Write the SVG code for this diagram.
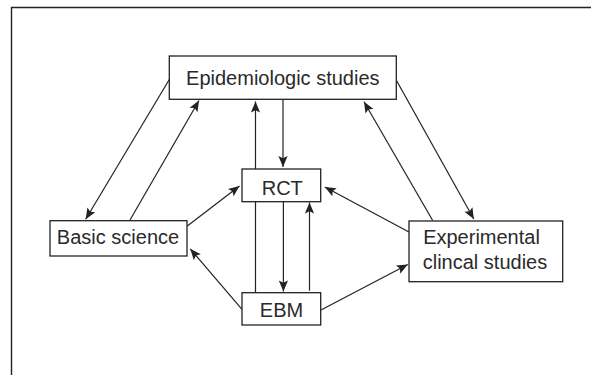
<svg xmlns="http://www.w3.org/2000/svg" width="591" height="375" viewBox="0 0 591 375">
  <style>
    .box { fill: #fff; stroke: #222; stroke-width: 1.3; }
    .lbl { font-family: "Liberation Sans", Arial, sans-serif; font-size: 20px; fill: #2a2a2a; text-anchor: middle; }
    .edge { stroke: #222; stroke-width: 1.2; fill: none; }
    .arr { marker-end: url(#ah); }
  </style>
  <defs>
    <marker id="ah" markerUnits="userSpaceOnUse" markerWidth="14" markerHeight="12" viewBox="0 -6 12 12" refX="11" refY="0" orient="auto">
      <path d="M0,-4.6 L11,0 L0,4.6 L2.2,0 z" fill="#222"/>
    </marker>
  </defs>
  <rect width="591" height="375" fill="#fff"/>
  <g id="frame">
    <path d="M11.5,375 L11.5,7.5 L591,7.5" fill="none" stroke="#222" stroke-width="1.4"/>
  </g>
  <g id="connectors">
    <line class="edge arr" x1="169.3" y1="79.5" x2="85.7" y2="219.3"/>
    <line class="edge arr" x1="130" y1="220" x2="199" y2="100.5"/>
    <line class="edge arr" x1="255.5" y1="292.7" x2="255.5" y2="101.5"/>
    <line class="edge arr" x1="283" y1="99.3" x2="283" y2="167"/>
    <line class="edge arr" x1="283.4" y1="201.7" x2="283.4" y2="291.5"/>
    <line class="edge arr" x1="309.5" y1="290.7" x2="309.5" y2="202.5"/>
    <line class="edge arr" x1="187.3" y1="226" x2="239.5" y2="186"/>
    <line class="edge arr" x1="242" y1="309.3" x2="190.2" y2="248.8"/>
    <line class="edge arr" x1="409" y1="232" x2="324.8" y2="187"/>
    <line class="edge arr" x1="321" y1="310" x2="407.8" y2="264.5"/>
    <line class="edge arr" x1="432.7" y1="220.5" x2="364" y2="101.7"/>
    <line class="edge arr" x1="396.5" y1="80.5" x2="473.8" y2="219"/>
  </g>
  <g id="epi">
    <rect class="box" x="169.3" y="56" width="227" height="43.3"/>
    <text class="lbl" x="282.8" y="84.7">Epidemiologic studies</text>
  </g>
  <g id="rct">
    <rect class="box" x="242" y="169" width="78.7" height="32.7"/>
    <text class="lbl" x="282.3" y="194.8">RCT</text>
  </g>
  <g id="ebm">
    <rect class="box" x="242" y="292.7" width="78.7" height="32.3"/>
    <text class="lbl" x="281.5" y="316.5">EBM</text>
  </g>
  <g id="basic">
    <rect class="box" x="50" y="220.7" width="137" height="35.3"/>
    <text class="lbl" x="118" y="244.2">Basic science</text>
  </g>
  <g id="exp">
    <rect class="box" x="409" y="221" width="153.7" height="60.7"/>
    <text class="lbl" x="481.5" y="244.3">Experimental</text>
    <text class="lbl" x="485" y="269.3">clincal studies</text>
  </g>
</svg>
